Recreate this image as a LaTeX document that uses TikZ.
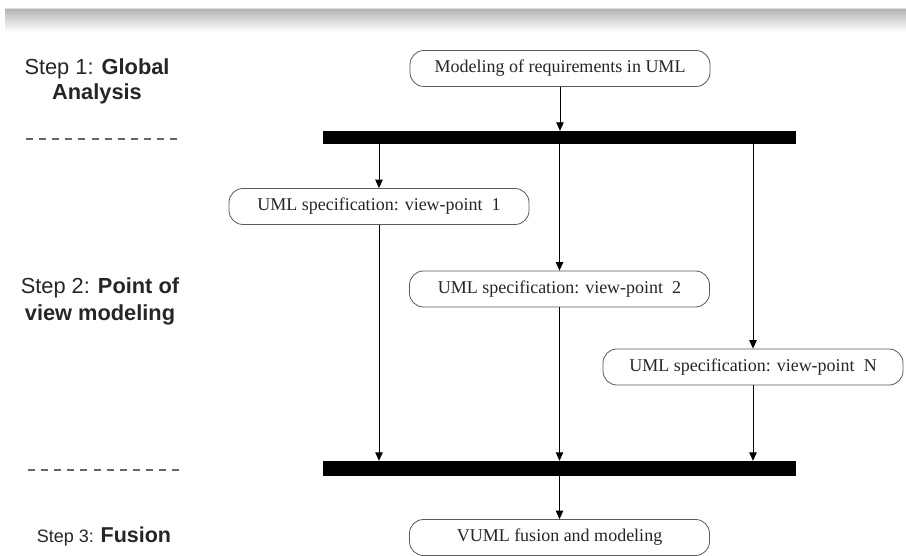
\documentclass[tikz,border=0pt]{standalone}
\usepackage{fontspec}
\setmainfont{Liberation Serif}
\newfontfamily\stepfont{Liberation Sans}
\usetikzlibrary{arrows.meta}

\tikzset{
  activity/.style={draw=black!65, line width=0.8pt, rounded corners=14pt,
    minimum width=300pt, minimum height=36pt, inner sep=0pt, text=black!85,
    font=\fontsize{18}{22}\selectfont},
  syncbar/.style={fill=black, draw=none, minimum width=473pt, inner sep=0pt},
  flow/.style={line width=0.9pt, -{Triangle[length=8.5pt,width=7.5pt]}},
  phaseline/.style={line width=1.8pt, draw=black!60, dash pattern=on 7pt off 6.1pt},
  phaselabel/.style={align=center, text=black!85, inner sep=0pt},
}

\begin{document}
\begin{tikzpicture}[x=1pt, y=-1pt]
  \useasboundingbox (0,0) rectangle (906,556);

  % shaded header strip
  \shade[top color=black!30, bottom color=white] (5,8.5) rectangle (906,32);
  \draw[black!12, line width=0.8pt] (5,8.2) -- (906,8.2);

  % step labels
  \node[phaselabel, font=\stepfont\fontsize{21.8}{25}\selectfont] (s1) at (97,81)
    {Step 1: \textbf{Global}\\\textbf{Analysis}};
  \node[phaselabel, font=\stepfont\fontsize{21.8}{27}\selectfont] (s2) at (100,301)
    {Step 2: \textbf{Point of}\\\textbf{view modeling}};
  \node[phaselabel, anchor=base] (s3) at (104,542)
    {\stepfont\fontsize{18}{22}\selectfont Step 3: \fontsize{21.5}{22}\selectfont\textbf{Fusion}};

  % phase separators
  \draw[phaseline] (26,139) -- (177,139);
  \draw[phaseline] (28,470) -- (179,470);

  % activities
  \node[activity] (req) at (560,68.5) {Modeling of requirements in UML};
  \node[activity] (v1)  at (379,206.5) {UML specification: view-point\ \ 1};
  \node[activity] (v2)  at (559.5,289) {UML specification: view-point\ \ 2};
  \node[activity] (vn)  at (753,367) {UML specification: view-point\ \ N};
  \node[activity] (fus) at (559.5,537.5) {VUML fusion and modeling};

  % fork and join bars
  \node[syncbar, minimum height=13pt] (fork) at (559.5,137.5) {};
  \node[syncbar, minimum height=15pt] (join) at (559.5,468.5) {};

  % flows
  \draw[flow] (req) -- (req |- fork.north);
  \draw[flow] (fork.south -| v1) -- (v1);
  \draw[flow] (fork.south -| v2) -- (v2);
  \draw[flow] (fork.south -| vn) -- (vn);
  \draw[flow] (v1) -- (v1 |- join.north);
  \draw[flow] (v2) -- (v2 |- join.north);
  \draw[flow] (vn) -- (vn |- join.north);
  \draw[flow] (join.south -| fus) -- (fus);
\end{tikzpicture}
\end{document}
